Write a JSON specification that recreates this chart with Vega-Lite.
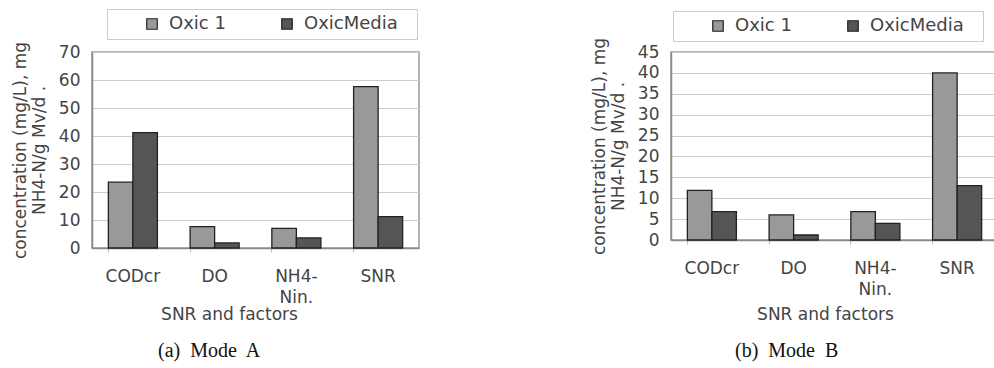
{
  "$schema": "https://vega.github.io/schema/vega-lite/v6.json",
  "padding": {"left": 10, "top": 7, "right": 0, "bottom": 0},
  "spacing": 169,
  "datasets": {
    "a": [
      {"factor": "CODcr", "series": "Oxic 1", "value": 23.5},
      {"factor": "CODcr", "series": "OxicMedia", "value": 41.2},
      {"factor": "DO", "series": "Oxic 1", "value": 7.6},
      {"factor": "DO", "series": "OxicMedia", "value": 1.8},
      {"factor": "NH4-Nin.", "series": "Oxic 1", "value": 7.0},
      {"factor": "NH4-Nin.", "series": "OxicMedia", "value": 3.6},
      {"factor": "SNR", "series": "Oxic 1", "value": 57.6},
      {"factor": "SNR", "series": "OxicMedia", "value": 11.2}
    ],
    "b": [
      {"factor": "CODcr", "series": "Oxic 1", "value": 11.9},
      {"factor": "CODcr", "series": "OxicMedia", "value": 6.8},
      {"factor": "DO", "series": "Oxic 1", "value": 6.0},
      {"factor": "DO", "series": "OxicMedia", "value": 1.2},
      {"factor": "NH4-Nin.", "series": "Oxic 1", "value": 6.8},
      {"factor": "NH4-Nin.", "series": "OxicMedia", "value": 4.0},
      {"factor": "SNR", "series": "Oxic 1", "value": 40.0},
      {"factor": "SNR", "series": "OxicMedia", "value": 13.0}
    ]
  },
  "config": {
    "font": "DejaVu Sans",
    "view": {"stroke": "#999999", "strokeWidth": 1.5},
    "axis": {
      "labelFont": "DejaVu Sans",
      "titleFont": "DejaVu Sans",
      "labelFontSize": 17,
      "titleFontSize": 17,
      "labelColor": "#444444",
      "titleColor": "#444444",
      "titleFontWeight": "normal",
      "domainColor": "#888888",
      "domainWidth": 1.5,
      "gridColor": "#cccccc"
    },
    "legend": {
      "labelFont": "DejaVu Sans",
      "labelFontSize": 18,
      "labelColor": "#444444",
      "strokeColor": "#cccccc",
      "padding": 6,
      "symbolType": "square",
      "symbolSize": 110,
      "symbolStrokeColor": "#222222",
      "symbolStrokeWidth": 1.2,
      "symbolOffset": 30,
      "labelOffset": 8,
      "gridAlign": "none",
      "columnPadding": 22,
      "titleOrient": "right",
      "titlePadding": 13,
      "titleFontSize": 12
    },
    "title": {"font": "Liberation Serif", "fontSize": 20, "fontWeight": "normal", "color": "#111111"}
  },
  "resolve": {"scale": {"color": "independent"}, "legend": {"color": "independent"}},
  "hconcat": [
    {
      "width": 327,
      "height": 196,
      "data": {"name": "a"},
      "title": {"text": "(a)\u00a0 Mode\u00a0 A", "orient": "bottom", "anchor": "start", "frame": "group", "dx": 66, "offset": 19},
      "mark": {"type": "bar", "stroke": "#222222", "strokeWidth": 1.3},
      "encoding": {
        "x": {
          "field": "factor", "type": "nominal", "sort": null,
          "scale": {"paddingInner": 0.4, "paddingOuter": 0.2},
          "axis": {
            "title": "SNR and factors", "labelAngle": 0, "bandPosition": 0,
            "tickColor": "#bbbbbb", "tickSize": 4, "labelPadding": 16,
            "labelLineHeight": 21, "labelBaseline": "top",
            "labelExpr": "datum.value == 'NH4-Nin.' ? ['NH4-', 'Nin.'] : datum.value",
            "titleX": 137, "titleY": 58, "titleBaseline": "top", "titleAnchor": null
          }
        },
        "xOffset": {"field": "series", "type": "nominal", "scale": {"paddingInner": 0, "paddingOuter": 0}},
        "y": {
          "field": "value", "type": "quantitative",
          "scale": {"domain": [0, 70], "nice": false},
          "axis": {
            "title": ["concentration (mg/L), mg", "NH4-N/g Mv/d ."],
            "values": [0, 10, 20, 30, 40, 50, 60, 70],
            "ticks": false, "labelPadding": 12, "titlePadding": 10, "titleLineHeight": 19
          }
        },
        "color": {
          "field": "series", "type": "nominal",
          "scale": {"domain": ["Oxic 1", "OxicMedia"], "range": ["#999999", "#555555"]},
          "legend": {"title": "\u00a0", "orient": "none", "direction": "horizontal", "legendX": 15, "legendY": -43}
        }
      }
    },
    {
      "width": 327,
      "height": 188,
      "data": {"name": "b"},
      "title": {"text": "(b)\u00a0 Mode\u00a0 B", "orient": "bottom", "anchor": "start", "frame": "group", "dx": 64, "offset": 19},
      "mark": {"type": "bar", "stroke": "#222222", "strokeWidth": 1.3},
      "encoding": {
        "x": {
          "field": "factor", "type": "nominal", "sort": null,
          "scale": {"paddingInner": 0.4, "paddingOuter": 0.2},
          "axis": {
            "title": "SNR and factors", "labelAngle": 0, "bandPosition": 0,
            "tickColor": "#bbbbbb", "tickSize": 4, "labelPadding": 16,
            "labelLineHeight": 21, "labelBaseline": "top",
            "labelExpr": "datum.value == 'NH4-Nin.' ? ['NH4-', 'Nin.'] : datum.value",
            "titleX": 154, "titleY": 66, "titleBaseline": "top", "titleAnchor": null
          }
        },
        "xOffset": {"field": "series", "type": "nominal", "scale": {"paddingInner": 0, "paddingOuter": 0}},
        "y": {
          "field": "value", "type": "quantitative",
          "scale": {"domain": [0, 45], "nice": false},
          "axis": {
            "title": ["concentration (mg/L), mg", "NH4-N/g Mv/d ."],
            "values": [0, 5, 10, 15, 20, 25, 30, 35, 40, 45],
            "ticks": false, "labelPadding": 12, "titlePadding": 10, "titleLineHeight": 19
          }
        },
        "color": {
          "field": "series", "type": "nominal",
          "scale": {"domain": ["Oxic 1", "OxicMedia"], "range": ["#999999", "#555555"]},
          "legend": {"title": "\u00a0", "orient": "none", "direction": "horizontal", "legendX": 2, "legendY": -41}
        }
      }
    }
  ]
}
